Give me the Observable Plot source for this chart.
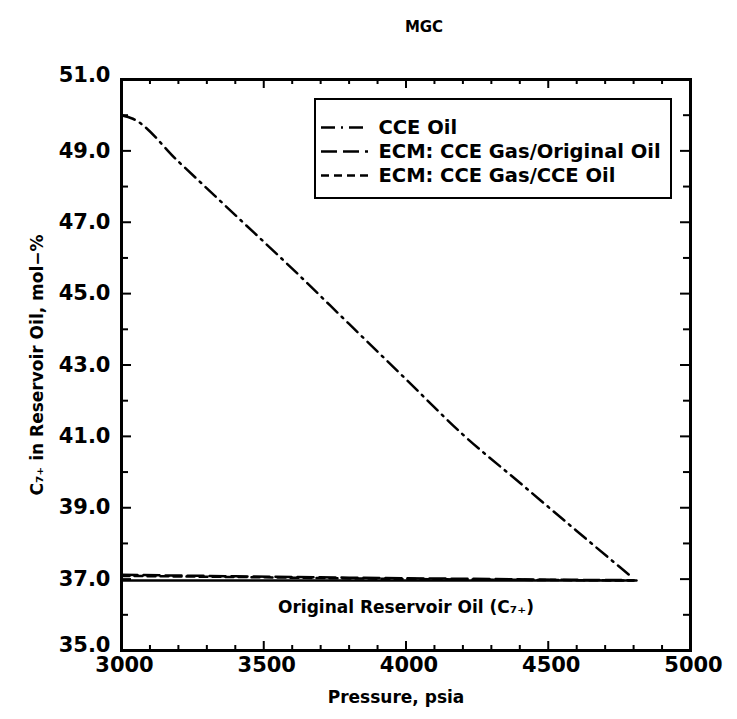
<!DOCTYPE html>
<html>
<head>
<meta charset="utf-8">
<script src="https://cdn.jsdelivr.net/npm/d3@7"></script>
<script src="https://cdn.jsdelivr.net/npm/@observablehq/plot@0.6"></script>
<style>
  html, body { margin: 0; padding: 0; background: #fff; }
  svg { font-family: "DejaVu Sans", sans-serif; }
</style>
</head>
<body>
<div id="chart"></div>
<script>
// ---- Data ----
const cceOilP = [3000, 3040, 3200, 3400, 3600, 3800, 4000, 4200, 4400, 4600, 4790];
const cceOilV = [50.0, 49.9, 48.7, 47.2, 45.7, 44.15, 42.6, 41.05, 39.7, 38.35, 37.08];

const ecmOrigP = [3000, 3400, 3800, 4200, 4600, 4800];
const ecmOrigV = [37.12, 37.08, 37.04, 37.01, 36.98, 36.97];

const ecmCceP = [3000, 3400, 3800, 4200, 4600, 4800];
const ecmCceV = [37.09, 37.06, 37.02, 36.99, 36.97, 36.96];

const origOilP = [3000, 4810];
const origOilV = [36.96, 36.96];

const xTickLabels = [3000, 3500, 4000, 4500, 5000];
const yTickLabels = [35, 37, 39, 41, 43, 45, 47, 49, 51];
const xMajorTicks = [3500, 4000, 4500];
const xMinorTicks = [3100, 3200, 3300, 3400, 3600, 3700, 3800, 3900, 4100, 4200, 4300, 4400, 4600, 4700, 4800, 4900];
const yMajorTicks = [37, 39, 41, 43, 45, 47, 49];
const yMinorTicks = [36, 38, 40, 42, 44, 46, 48, 50];

const legendLabels = ["CCE Oil", "ECM: CCE Gas/Original Oil", "ECM: CCE Gas/CCE Oil"];
const legendDash = ["14,6,2,6", "16,6", "8,5"];

const titleText = "MGC";
const xLabel = "Pressure, psia";
const yLabel = "C\u2087\u208A in Reservoir Oil, mol\u2212%";
const annotText = "Original Reservoir Oil (C\u2087\u208A)";
const annotP = 4000, annotV = 36.2;

// ---- Layout ----
const W = 737, H = 719;
const mT = 79, mR = 47, mB = 69, mL = 121;
const xDom = [3000, 5000], yDom = [35, 51];
const pxY = (H - mT - mB) / (yDom[1] - yDom[0]);
const pxX = (W - mL - mR) / (xDom[1] - xDom[0]);

const zip = (a, b) => a.map((p, i) => ({p, v: b[i]}));
const cceOil = zip(cceOilP, cceOilV);
const ecmOrig = zip(ecmOrigP, ecmOrigV);
const ecmCce = zip(ecmCceP, ecmCceV);
const origOil = zip(origOilP, origOilV);

// legend placement (pixel offsets converted to data space inside the frame)
const toX = px => xDom[0] + (px - mL) / pxX;
const toY = py => yDom[1] - (py - mT) / pxY;
const legX0 = toX(315), legX1 = toX(671);
const legY0 = toY(99), legY1 = toY(198);
const legRows = legendLabels.map((label, i) => ({label, dash: legendDash[i], y: toY(127 + i * 24)}));
const symX0 = toX(321), symX1 = toX(368);
const txtX = toX(378);

const fontTick = {fontSize: 21, fontWeight: "bold", fill: "black"};
// end labels of the y axis sit slightly above their ticks
const yLabelShift = d => (d === 51 ? -4 : d === 35 ? -5 : 0);

const plot = Plot.plot({
  width: W, height: H,
  marginTop: mT, marginRight: mR, marginBottom: mB, marginLeft: mL,
  x: {domain: xDom, axis: null},
  y: {domain: yDom, axis: null},
  style: {fontFamily: "DejaVu Sans, sans-serif", background: "white"},
  marks: [
    // ticks: bottom
    Plot.ruleX(xMajorTicks, {x: d => d, y1: yDom[0], y2: yDom[0] + 9 / pxY, strokeWidth: 2}),
    Plot.ruleX(xMinorTicks, {x: d => d, y1: yDom[0], y2: yDom[0] + 5 / pxY, strokeWidth: 2}),
    // ticks: top
    Plot.ruleX(xMajorTicks, {x: d => d, y1: yDom[1], y2: yDom[1] - 9 / pxY, strokeWidth: 2}),
    Plot.ruleX(xMinorTicks, {x: d => d, y1: yDom[1], y2: yDom[1] - 5 / pxY, strokeWidth: 2}),
    // ticks: left
    Plot.ruleY(yMajorTicks, {y: d => d, x1: xDom[0], x2: xDom[0] + 10 / pxX, strokeWidth: 2}),
    Plot.ruleY(yMinorTicks, {y: d => d, x1: xDom[0], x2: xDom[0] + 7 / pxX, strokeWidth: 2}),
    // ticks: right
    Plot.ruleY(yMajorTicks, {y: d => d, x1: xDom[1], x2: xDom[1] - 10 / pxX, strokeWidth: 2}),
    Plot.ruleY(yMinorTicks, {y: d => d, x1: xDom[1], x2: xDom[1] - 7 / pxX, strokeWidth: 2}),

    // data lines
    Plot.line(origOil, {x: "p", y: "v", stroke: "black", strokeWidth: 2.5}),
    Plot.line(ecmOrig, {x: "p", y: "v", stroke: "black", strokeWidth: 2.5, strokeDasharray: legendDash[1]}),
    Plot.line(ecmCce, {x: "p", y: "v", stroke: "black", strokeWidth: 2.5, strokeDasharray: legendDash[2]}),
    Plot.line(cceOil, {x: "p", y: "v", stroke: "black", strokeWidth: 2.5, strokeDasharray: legendDash[0], curve: "monotone-x"}),

    // annotation
    Plot.text([annotText], {x: annotP, y: annotV, text: d => d, fontSize: 17, fontWeight: "bold", fill: "black"}),

    // legend
    Plot.rect([0], {x1: legX0, x2: legX1, y1: legY1, y2: legY0, fill: "white", stroke: "black", strokeWidth: 2}),
    ...legRows.map(r => Plot.ruleY([r.y], {x1: symX0, x2: symX1, y: d => d, stroke: "black", strokeWidth: 2.5, strokeDasharray: r.dash})),
    Plot.text(legRows, {x: txtX, y: "y", text: "label", textAnchor: "start", fontSize: 19.5, fontWeight: "bold", fill: "black"}),

    // frame
    Plot.frame({stroke: "black", strokeWidth: 3}),

    // tick labels
    Plot.text(xTickLabels, {x: d => d, frameAnchor: "bottom", dy: 21, dx: 3, text: d => String(d), ...fontTick}),
    ...yTickLabels.map(v => Plot.text([v], {y: d => d, frameAnchor: "left", dx: -11, dy: yLabelShift(v), textAnchor: "end", text: d => d.toFixed(1), ...fontTick})),

    // axis labels and title
    Plot.text([xLabel], {frameAnchor: "bottom", dy: 52, dx: -10, text: d => d, fontSize: 17, fontWeight: "bold", fill: "black"}),
    Plot.text([yLabel], {frameAnchor: "left", textAnchor: "middle", dx: -84, dy: 0, rotate: -90, text: d => d, fontSize: 17, fontWeight: "bold", fill: "black"}),
    Plot.text([titleText], {frameAnchor: "top", dy: -58, dx: 18, text: d => d, fontSize: 15, fontWeight: "bold", fill: "black"})
  ]
});
document.getElementById("chart").appendChild(plot);
</script>
</body>
</html>
